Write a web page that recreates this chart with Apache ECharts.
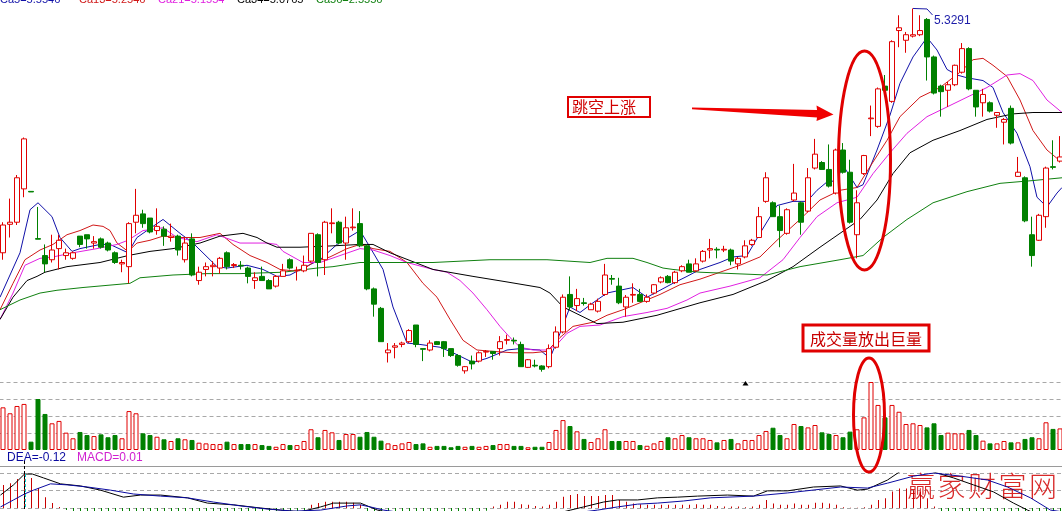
<!DOCTYPE html>
<html>
<head>
<meta charset="utf-8">
<script src="https://cdn.jsdelivr.net/npm/echarts@6/dist/echarts.min.js"></script>
<style>
  html, body { margin: 0; padding: 0; background: #ffffff; }
  #chart { width: 1062px; height: 511px; }
</style>
</head>
<body>
<div id="chart"></div>
<script>
// Daily bars: [open, close, low, high]
const candles = [
  [3.57,3.77,3.52,3.79],[3.775,3.79,3.68,3.96],[3.79,4.11,3.77,4.13],[4.03,4.39,3.97,4.40],[4.012,4.008,4.008,4.012],
  [3.672,3.668,3.668,3.90],[3.55,3.49,3.43,3.63],[3.52,3.59,3.50,3.70],[3.60,3.66,3.45,3.70],[3.55,3.57,3.52,3.60],
  [3.53,3.57,3.52,3.58],[3.69,3.63,3.61,3.69],[3.70,3.67,3.60,3.70],[3.64,3.65,3.60,3.69],[3.67,3.61,3.60,3.68],
  [3.64,3.59,3.58,3.65],[3.57,3.50,3.49,3.58],[3.49,3.50,3.43,3.52],[3.47,3.78,3.35,3.79],[3.79,3.84,3.71,4.03],
  [3.85,3.78,3.75,3.88],[3.82,3.72,3.71,3.82],[3.73,3.76,3.70,3.89],[3.74,3.69,3.62,3.76],[3.68,3.69,3.65,3.78],
  [3.69,3.59,3.55,3.70],[3.52,3.64,3.50,3.68],[3.67,3.41,3.40,3.71],[3.37,3.43,3.34,3.47],[3.45,3.47,3.40,3.50],
  [3.47,3.48,3.40,3.51],[3.46,3.53,3.42,3.54],[3.57,3.47,3.45,3.58],[3.478,3.485,3.46,3.496],[3.48,3.475,3.45,3.51],
  [3.46,3.40,3.35,3.47],[3.37,3.39,3.31,3.43],[3.40,3.37,3.37,3.47],[3.37,3.31,3.31,3.38],[3.33,3.40,3.32,3.41],
  [3.40,3.44,3.40,3.49],[3.52,3.46,3.45,3.53],[3.44,3.445,3.37,3.47],[3.44,3.48,3.43,3.55],[3.51,3.71,3.50,3.71],
  [3.70,3.50,3.40,3.71],[3.52,3.79,3.41,3.80],[3.78,3.785,3.71,3.89],[3.79,3.64,3.63,3.80],[3.64,3.75,3.52,3.83],
  [3.75,3.755,3.73,3.89],[3.78,3.62,3.61,3.87],[3.62,3.31,3.30,3.63],[3.31,3.20,3.11,3.32],[3.17,2.93,2.93,3.18],
  [2.85,2.87,2.78,2.92],[2.89,2.90,2.81,2.92],[2.91,2.92,2.89,2.93],[2.93,3.01,2.92,3.02],[3.05,2.91,2.89,3.05],
  [2.88,2.875,2.79,2.88],[2.87,2.92,2.86,2.94],[2.93,2.91,2.91,2.935],[2.93,2.88,2.82,2.935],[2.88,2.83,2.82,2.88],
  [2.83,2.76,2.75,2.84],[2.72,2.75,2.70,2.755],[2.79,2.77,2.73,2.83],[2.79,2.85,2.78,2.86],[2.855,2.86,2.82,2.87],
  [2.86,2.845,2.80,2.86],[2.88,2.93,2.83,2.97],[2.94,2.945,2.91,2.98],[2.94,2.935,2.91,2.96],[2.91,2.75,2.75,2.93],
  [2.745,2.80,2.74,2.805],[2.76,2.755,2.745,2.80],[2.755,2.731,2.714,2.76],[2.75,2.88,2.738,2.91],[2.89,3.00,2.88,3.04],
  [3.00,3.25,2.99,3.27],[3.27,3.18,3.16,3.40],[3.19,3.24,3.15,3.31],[3.21,3.205,3.19,3.245],[3.16,3.20,3.16,3.21],
  [3.15,3.22,3.14,3.24],[3.27,3.41,3.26,3.49],[3.385,3.38,3.34,3.41],[3.33,3.21,3.20,3.39],[3.18,3.25,3.11,3.266],
  [3.265,3.27,3.21,3.35],[3.27,3.22,3.215,3.31],[3.22,3.25,3.21,3.27],[3.28,3.34,3.27,3.345],[3.36,3.39,3.35,3.40],
  [3.40,3.355,3.35,3.41],[3.355,3.43,3.345,3.44],[3.44,3.47,3.43,3.48],[3.49,3.43,3.43,3.52],[3.44,3.49,3.43,3.53],
  [3.51,3.58,3.50,3.59],[3.59,3.60,3.53,3.67],[3.595,3.59,3.53,3.61],[3.59,3.595,3.575,3.62],[3.59,3.51,3.48,3.60],
  [3.49,3.53,3.45,3.54],[3.54,3.62,3.53,3.66],[3.63,3.66,3.62,3.67],[3.68,3.83,3.68,3.90],[3.94,4.11,3.93,4.15],
  [3.93,3.83,3.83,3.94],[3.83,3.73,3.61,3.91],[3.71,3.88,3.70,3.89],[3.95,4.00,3.94,4.21],[3.93,3.79,3.70,3.94],
  [3.87,4.11,3.86,4.18],[4.18,4.28,4.17,4.39],[4.22,4.17,4.17,4.23],[4.17,4.05,4.04,4.35],[4.00,4.31,3.99,4.32],
  [4.31,4.15,4.14,4.36],[4.15,3.79,3.78,4.24],[3.70,3.93,3.53,4.02],[4.14,4.27,4.13,4.275],[4.535,4.54,4.41,4.63],
  [4.48,4.75,4.47,4.76],[4.77,4.74,4.73,4.85],[4.66,5.09,4.65,5.10],[5.17,5.19,5.05,5.28],[5.10,5.14,5.01,5.16],
  [5.13,5.14,5.12,5.3291],[5.14,5.17,5.13,5.28],[5.25,4.98,4.81,5.26],[4.98,4.72,4.71,4.99],[4.77,4.73,4.55,4.78],
  [4.74,4.78,4.62,4.80],[4.78,4.92,4.77,4.925],[4.87,5.04,4.86,5.08],[5.04,4.75,4.74,5.05],[4.74,4.62,4.55,4.74],
  [4.65,4.71,4.55,4.75],[4.65,4.59,4.58,4.66],[4.56,4.58,4.47,4.58],[4.51,4.53,4.35,4.54],[4.61,4.36,4.35,4.63],
  [4.12,4.15,4.116,4.26],[4.11,3.80,3.79,4.12],[3.70,3.55,3.47,3.83],[3.66,3.84,3.655,3.85],[3.83,4.18,3.75,4.19],
  [4.19,4.185,4.17,4.38],[4.23,4.26,4.22,4.41]
];

// Traded volume per day (10k lots)
const volumes = [
  25.1,21.6,25.9,27.1,4.9,30.0,21.2,15.7,17.1,10.2,
  6.9,10.6,8.8,8.2,9.2,7.5,8.8,6.9,22.9,21.6,
  9.8,8.8,7.8,6.3,5.3,6.9,6.3,5.9,4.3,3.9,
  3.5,3.5,4.9,3.5,3.5,3.5,3.5,2.9,2.4,1.9,
  3.5,2.9,2.9,5.3,12.2,7.5,11.8,10.4,5.9,9.4,
  9.4,7.8,10.6,7.8,5.5,3.9,2.9,3.9,4.7,3.5,
  3.9,1.9,2.4,2.4,1.6,2.4,1.9,2.4,1.9,2.4,
  2.9,3.5,3.5,2.4,2.4,1.6,1.9,1.9,4.7,11.8,
  17.6,14.1,11.0,6.5,4.7,6.9,12.2,5.3,5.3,5.3,
  5.3,2.9,2.5,3.9,5.3,7.5,6.9,8.8,7.5,6.9,
  6.9,5.9,4.5,5.9,6.5,3.9,5.9,5.9,8.8,11.2,
  13.1,8.8,6.9,15.3,14.1,13.3,14.7,10.4,9.4,8.8,
  7.5,10.8,12.2,19.2,40.0,26.5,19.2,26.5,22.5,15.3,
  15.7,14.7,13.3,15.7,8.8,10.2,9.8,9.8,11.8,8.8,
  5.5,3.9,3.9,5.3,4.5,4.5,6.5,7.5,6.9,16.3,
  12.4,12.7
];

// MACD histogram per day
const macdHist = [
  0.066,0.071,0.083,0.097,0.086,0.057,0.031,0.014,0.003,-0.006,
  -0.012,-0.018,-0.022,-0.025,-0.027,-0.028,-0.03,-0.03,-0.026,-0.02,
  -0.018,-0.017,-0.017,-0.018,-0.02,-0.022,-0.026,-0.03,-0.033,-0.035,
  -0.036,-0.036,-0.035,-0.034,-0.033,-0.034,-0.034,-0.033,-0.031,-0.028,
  -0.025,-0.022,-0.018,-0.012,0.009,0.014,0.018,0.018,0.018,0.018,
  0.015,0.009,-0.01,-0.025,-0.045,-0.055,-0.06,-0.06,-0.055,-0.052,
  -0.05,-0.045,-0.04,-0.036,-0.033,-0.032,-0.03,-0.025,-0.018,-0.008,
  0.004,0.009,0.018,0.018,0.011,0.009,0.006,0.004,0.009,0.018,
  0.032,0.037,0.04,0.034,0.034,0.034,0.037,0.037,0.023,0.018,
  0.013,0.011,0.009,0.009,0.009,0.009,0.009,0.009,0.009,0.011,
  0.009,0.009,0.006,0.004,0.004,0.004,0.002,0.004,0.009,0.023,
  0.013,0.009,0.009,0.013,0.009,0.009,0.015,0.015,0.013,0.009,
  0.002,0.001,0.001,0.002,0.009,0.023,0.028,0.047,0.056,0.056,
  0.051,0.047,0.028,0.004,-0.012,-0.022,-0.03,-0.038,-0.045,-0.05,
  -0.055,-0.058,-0.06,-0.062,-0.066,-0.07,-0.074,-0.076,-0.074,-0.07,
  -0.065,-0.06
];

// Average lines, read as [day index, price]
const ma5 = [[-0.43,3.25],[2.43,3.57],[3.86,3.88],[5.0,3.93],[7.0,3.83],[8.14,3.68],[9.86,3.58],[11.0,3.60],[13.86,3.63],[15.29,3.63],[17.86,3.57],[19.14,3.68],[22.86,3.81],[25.29,3.71],[27.14,3.64],[30.57,3.47],[32.0,3.46],[34.86,3.48],[37.14,3.45],[39.14,3.40],[41.0,3.41],[42.86,3.46],[45.29,3.52],[47.71,3.63],[51.0,3.73],[52.43,3.61],[54.29,3.45],[55.71,3.18],[57.71,2.92],[59.57,2.91],[62.43,2.89],[64.29,2.85],[67.14,2.78],[69.14,2.81],[72.0,2.87],[73.86,2.88],[76.71,2.87],[78.14,2.81],[79.57,2.99],[81.0,3.18],[82.43,3.14],[84.29,3.21],[86.29,3.28],[88.14,3.30],[90.0,3.32],[92.0,3.25],[93.86,3.30],[95.71,3.35],[97.71,3.40],[99.57,3.45],[102.43,3.50],[104.29,3.54],[106.29,3.55],[108.14,3.71],[110.57,3.91],[112.86,3.94],[114.86,3.94],[116.29,4.02],[117.71,4.08],[119.14,4.09],[120.0,4.20],[122.0,4.04],[122.86,4.06],[124.86,4.31],[126.71,4.56],[128.14,4.79],[130.0,4.98],[132.0,5.12],[133.43,5.03],[134.86,4.89],[136.29,4.85],[137.71,4.83],[140.0,4.81],[141.43,4.76],[142.86,4.58],[144.86,4.43],[146.71,4.19],[147.71,3.97],[149.14,3.90],[150.57,4.00],[151.29,4.04]];
const ma13 = [[-0.43,3.16],[1.43,3.35],[3.14,3.52],[5.29,3.59],[7.14,3.63],[9.14,3.70],[11.0,3.73],[12.86,3.77],[14.29,3.76],[15.29,3.73],[16.29,3.64],[17.86,3.58],[19.14,3.64],[21.0,3.66],[22.86,3.69],[25.29,3.68],[28.14,3.68],[31.0,3.71],[32.86,3.63],[35.29,3.55],[37.71,3.50],[39.57,3.45],[41.43,3.44],[42.86,3.45],[44.29,3.50],[46.71,3.54],[49.14,3.60],[51.0,3.63],[52.86,3.60],[55.29,3.58],[57.71,3.50],[60.0,3.35],[62.0,3.25],[63.86,3.09],[65.71,2.94],[67.71,2.87],[70.0,2.86],[72.86,2.85],[75.71,2.85],[77.71,2.86],[79.57,2.96],[81.43,3.04],[84.29,3.07],[86.29,3.12],[88.57,3.16],[91.0,3.21],[93.86,3.27],[96.71,3.34],[99.57,3.38],[102.43,3.43],[105.29,3.48],[108.14,3.54],[110.57,3.66],[113.86,3.81],[116.71,3.95],[119.57,4.02],[122.0,4.04],[123.86,4.19],[126.29,4.38],[128.14,4.55],[131.0,4.69],[133.86,4.76],[136.71,4.87],[138.57,4.96],[140.0,4.97],[141.43,4.92],[143.43,4.84],[145.29,4.67],[147.14,4.45],[149.14,4.31],[150.57,4.25],[151.29,4.24]];
const ma21 = [[-0.43,3.09],[1.43,3.28],[3.14,3.48],[5.29,3.53],[7.14,3.54],[10.0,3.57],[13.43,3.60],[16.29,3.63],[17.86,3.66],[20.0,3.73],[22.86,3.75],[24.86,3.68],[27.71,3.65],[30.57,3.70],[33.86,3.64],[37.71,3.64],[39.14,3.63],[40.0,3.58],[42.86,3.50],[45.29,3.50],[48.14,3.55],[51.0,3.60],[52.86,3.59],[55.29,3.55],[57.71,3.50],[61.43,3.45],[63.43,3.43],[65.29,3.37],[67.14,3.28],[69.14,3.16],[71.0,3.04],[72.43,2.96],[73.86,2.89],[75.71,2.87],[77.71,2.87],[79.14,2.91],[80.57,2.99],[82.43,3.04],[85.29,3.05],[88.57,3.11],[92.0,3.14],[94.86,3.17],[97.71,3.23],[99.57,3.28],[103.86,3.33],[108.14,3.39],[111.43,3.52],[113.86,3.68],[116.29,3.83],[119.14,3.93],[122.0,3.97],[124.29,4.14],[126.71,4.29],[129.14,4.43],[132.0,4.55],[134.86,4.62],[137.71,4.69],[140.57,4.76],[143.43,4.85],[145.29,4.86],[147.14,4.81],[149.14,4.67],[151.29,4.58]];
const ma34 = [[-0.43,3.09],[1.43,3.25],[3.43,3.37],[4.86,3.40],[6.0,3.43],[9.14,3.47],[13.86,3.50],[17.86,3.55],[21.0,3.58],[24.29,3.60],[28.14,3.64],[31.0,3.69],[34.29,3.71],[36.29,3.68],[37.71,3.64],[39.14,3.61],[42.43,3.61],[47.14,3.62],[51.0,3.63],[52.86,3.63],[55.29,3.57],[61.43,3.45],[67.14,3.40],[72.0,3.36],[76.71,3.32],[78.14,3.28],[80.0,3.18],[82.43,3.12],[84.86,3.06],[88.57,3.07],[93.43,3.12],[99.57,3.21],[104.29,3.27],[109.14,3.37],[112.86,3.47],[116.71,3.61],[119.57,3.71],[122.43,3.81],[124.86,3.95],[127.14,4.14],[129.57,4.29],[132.86,4.38],[136.71,4.45],[140.57,4.53],[144.29,4.57],[147.14,4.58],[151.29,4.58]];
const ma56 = [[-0.43,3.16],[2.43,3.23],[5.29,3.28],[7.71,3.30],[11.43,3.32],[18.14,3.35],[19.57,3.39],[24.29,3.41],[29.14,3.42],[33.86,3.42],[40.0,3.43],[44.86,3.46],[47.14,3.47],[51.0,3.50],[61.43,3.50],[69.57,3.52],[77.71,3.52],[83.86,3.50],[86.29,3.53],[90.0,3.53],[92.0,3.50],[94.29,3.46],[95.71,3.45],[99.57,3.43],[109.14,3.41],[113.86,3.47],[119.57,3.52],[122.86,3.55],[125.71,3.68],[129.14,3.81],[132.86,3.93],[137.71,4.01],[142.43,4.07],[147.14,4.09],[151.29,4.11]];

// MACD lines, read as [day index, value]
const dif = [[-0.43,0.037],[1.43,0.066],[3.0,0.097],[4.14,0.097],[5.71,0.086],[8.14,0.069],[11.0,0.063],[13.86,0.051],[17.14,0.031],[19.57,0.037],[22.43,0.037],[26.29,0.029],[29.14,0.014],[32.86,0.009],[36.71,0.0],[39.57,-0.006],[42.43,-0.011],[45.29,0.003],[47.14,0.014],[51.0,0.014],[53.43,-0.006],[59.57,-0.034],[68.14,-0.049],[75.29,-0.034],[81.0,-0.006],[82.86,0.003],[85.71,0.017],[87.71,0.023],[90.57,0.023],[93.43,0.029],[96.29,0.031],[99.14,0.034],[103.43,0.037],[107.14,0.034],[109.14,0.049],[112.0,0.049],[115.71,0.06],[119.57,0.063],[122.0,0.051],[123.43,0.054],[126.29,0.08],[128.57,0.111],[131.0,0.117],[132.86,0.103],[135.71,0.086],[138.57,0.066],[141.43,0.046],[144.29,0.014],[146.29,-0.006],[148.86,-0.029],[151.29,-0.046]];
const dea = [[-0.43,0.003],[1.43,0.023],[3.0,0.04],[4.29,0.051],[6.71,0.069],[9.14,0.066],[12.0,0.06],[15.29,0.051],[18.57,0.04],[22.43,0.034],[26.29,0.029],[30.0,0.017],[33.86,0.006],[37.71,-0.003],[41.43,-0.009],[45.29,-0.006],[49.14,0.006],[51.0,0.009],[52.43,0.003],[54.29,-0.006],[62.43,-0.029],[73.86,-0.034],[84.86,-0.006],[87.71,0.003],[90.57,0.011],[93.43,0.014],[97.14,0.02],[101.0,0.029],[107.14,0.034],[112.0,0.043],[119.57,0.06],[123.43,0.057],[126.29,0.071],[130.0,0.091],[132.86,0.1],[136.71,0.091],[140.57,0.08],[143.43,0.06],[146.71,0.029],[149.57,-0.006],[151.29,-0.011]];

// Header readouts
const maLabels = ['Ca5=5.5546', 'Ca13=5.2546', 'Ca21=5.1554', 'Ca34=5.0765', 'Ca56=2.5556'];
const macdLabels = ['DEA=-0.12', 'MACD=0.01'];
const peakIndex = 130;
const peakPrice = 5.3291;
const cursorIndex = 3;
const siteMark = ['赢', '家', '财', '富', '网'];

const UP = '#e00000', DOWN = '#008000';
const maColors = ['#1010a8', '#d01818', '#e020e0', '#000000', '#108010'];
const days = candles.map((_, i) => i);
const isUp = candles.map(c => c[1] >= c[0]);

const chart = echarts.init(document.getElementById('chart'), null, { renderer: 'canvas' });
const gridWidth = 1064;
const dashed = { type: [4, 3], color: '#a8a8a8', width: 1 };
const panel = (left, top, height) => ({ left, width: gridWidth, top, height, outerBoundsMode: 'none', containLabel: false });

const lineSeries = (name, data, color, xi, yi) => ({
  name, type: 'line', data, xAxisIndex: xi, yAxisIndex: yi,
  showSymbol: false, symbol: 'none', silent: true,
  lineStyle: { color, width: 1 }, z: 3
});

chart.setOption({
  animation: false,
  backgroundColor: '#ffffff',
  // price, volume and MACD panes; the MACD pane sits half a pixel right so 1px bars stay crisp
  grid: [panel(-0.5, 0, 378), panel(-0.5, 382, 68), panel(0, 473, 70)],
  xAxis: [
    { type: 'category', data: days, gridIndex: 0, show: false, boundaryGap: true },
    { type: 'value', gridIndex: 0, show: false, min: -0.5, max: 151.5 },
    { type: 'category', data: days, gridIndex: 1, show: false, boundaryGap: true },
    { type: 'category', data: days, gridIndex: 2, show: false, boundaryGap: true },
    { type: 'value', gridIndex: 2, show: false, min: -0.5, max: 151.5 }
  ],
  yAxis: [
    { type: 'value', gridIndex: 0, show: false, min: 2.6684, max: 5.39, scale: true },
    { type: 'value', gridIndex: 1, min: 0, max: 40, interval: 10,
      axisLabel: { show: false }, axisLine: { show: false }, axisTick: { show: false },
      splitLine: { show: true, showMinLine: false, lineStyle: dashed } },
    { type: 'value', gridIndex: 2, min: -0.1, max: 0.1, interval: 0.05,
      axisLabel: { show: false }, axisLine: { show: false }, axisTick: { show: false },
      splitLine: { show: true, showMinLine: false, lineStyle: dashed } }
  ],
  series: [
    {
      name: 'K', type: 'candlestick', data: candles, xAxisIndex: 0, yAxisIndex: 0,
      barWidth: 5, silent: true, z: 4,
      itemStyle: { color: '#ffffff', color0: DOWN, borderColor: UP, borderColor0: DOWN, borderWidth: 1 }
    },
    lineSeries('Ca5', ma5, maColors[0], 1, 0),
    lineSeries('Ca13', ma13, maColors[1], 1, 0),
    lineSeries('Ca21', ma21, maColors[2], 1, 0),
    lineSeries('Ca34', ma34, maColors[3], 1, 0),
    lineSeries('Ca56', ma56, maColors[4], 1, 0),
    {
      name: 'VOL', type: 'bar', xAxisIndex: 2, yAxisIndex: 1, barWidth: 5, silent: true,
      data: volumes.map((v, i) => ({
        value: v,
        itemStyle: isUp[i]
          ? { color: '#ffffff', borderColor: UP, borderWidth: 1 }
          : { color: DOWN, borderColor: DOWN, borderWidth: 1 }
      }))
    },
    {
      name: 'MACD', type: 'bar', xAxisIndex: 3, yAxisIndex: 2, barWidth: 1, silent: true, z: 2,
      data: macdHist.map(v => ({ value: v, itemStyle: { color: v >= 0 ? '#c80000' : DOWN } }))
    },
    lineSeries('DIF', dif, '#000000', 4, 2),
    lineSeries('DEA', dea, '#0a0aa0', 4, 2)
  ]
});

// Overlays: readouts, cursor, peak tag and the hand-drawn notes
const peak = chart.convertToPixel({ seriesIndex: 0 }, [peakIndex, peakPrice]);
const cursorX = Math.round(chart.convertToPixel({ xAxisIndex: 3 }, cursorIndex)) - 0.5;

const labelFont = '11px "Liberation Sans", Arial, sans-serif';
const smallFont = '12px "Liberation Sans", Arial, sans-serif';
const cjk = '"Noto Sans CJK SC", sans-serif';
const maLabelX = [0, 79, 158, 237, 316];

const graphics = [];
maLabels.forEach((t, i) => graphics.push({
  type: 'text', x: maLabelX[i], y: 0, silent: true,
  style: { text: t, font: labelFont, fill: maColors[i], verticalAlign: 'middle', align: 'left' }
}));
siteMark.forEach((ch, i) => graphics.push({
  type: 'text', x: 907 + i * 30.5, y: 486, silent: true, z: 1,
  style: { text: ch, font: '300 28px ' + cjk, fill: '#d82828', verticalAlign: 'middle' }
}));
graphics.push(
  { type: 'line', silent: true, shape: { x1: 0, y1: 466.5, x2: 1062, y2: 466.5 }, style: { stroke: '#9a9a9a', lineWidth: 1.2 } },
  { type: 'text', x: 7, y: 458, silent: true, style: { text: macdLabels[0], font: smallFont, fill: '#0a0aa0', verticalAlign: 'middle' } },
  { type: 'text', x: 77, y: 458, silent: true, style: { text: macdLabels[1], font: smallFont, fill: '#d020d0', verticalAlign: 'middle' } },
  { type: 'line', silent: true, shape: { x1: cursorX, y1: 461, x2: cursorX, y2: 511 }, style: { stroke: '#000000', lineWidth: 1, lineDash: [3, 2] }, z: 10 },
  { type: 'line', silent: true, shape: { x1: cursorX + 1, y1: 474, x2: cursorX + 1, y2: 508 }, style: { stroke: '#00d8d8', lineWidth: 1, lineDash: [3, 2] }, z: 10 },
  // peak tag
  { type: 'polyline', silent: true, shape: { points: [[peak[0], peak[1]], [peak[0] + 14, peak[1] + 0.5], [peak[0] + 19.5, peak[1] + 6.5]] }, style: { stroke: '#1c1ca8', lineWidth: 1, fill: null }, z: 10 },
  { type: 'text', x: peak[0] + 21, y: peak[1] + 12, silent: true, style: { text: String(peakPrice), font: smallFont, fill: '#1c1ca8', verticalAlign: 'middle' }, z: 10 },
  // small marker above volume
  { type: 'polygon', silent: true, shape: { points: [[742.5, 385.5], [745.5, 381], [748.5, 385.5]] }, style: { fill: '#000000' } },
  // gap-up note
  { type: 'rect', silent: true, shape: { x: 568, y: 97, width: 82, height: 20 }, style: { fill: '#ffffff', stroke: '#e00000', lineWidth: 2 }, z: 20 },
  { type: 'text', x: 572, y: 107, silent: true, style: { text: '跳空上涨', font: '16px ' + cjk, fill: '#d00000', verticalAlign: 'middle' }, z: 21 },
  { type: 'polygon', silent: true, shape: { points: [[692, 107.5], [817, 110], [816.5, 105.5], [833.5, 114.5], [816.5, 121], [817, 117.5], [692, 109.2]] }, style: { fill: '#f00000' }, z: 20 },
  { type: 'ellipse', silent: true, shape: { cx: 864.5, cy: 160.5, rx: 26, ry: 109.5 }, style: { fill: null, stroke: '#e00000', lineWidth: 3 }, z: 20 },
  // volume note
  { type: 'rect', silent: true, shape: { x: 803, y: 325, width: 126, height: 26 }, style: { fill: '#ffffff', stroke: '#e00000', lineWidth: 3 }, z: 20 },
  { type: 'text', x: 810, y: 339, silent: true, style: { text: '成交量放出巨量', font: '16px ' + cjk, fill: '#c80000', verticalAlign: 'middle' }, z: 21 },
  { type: 'ellipse', silent: true, shape: { cx: 869, cy: 415, rx: 15.5, ry: 57 }, style: { fill: null, stroke: '#e00000', lineWidth: 3 }, z: 20 }
);

chart.setOption({ graphic: graphics });
</script>
</body>
</html>
